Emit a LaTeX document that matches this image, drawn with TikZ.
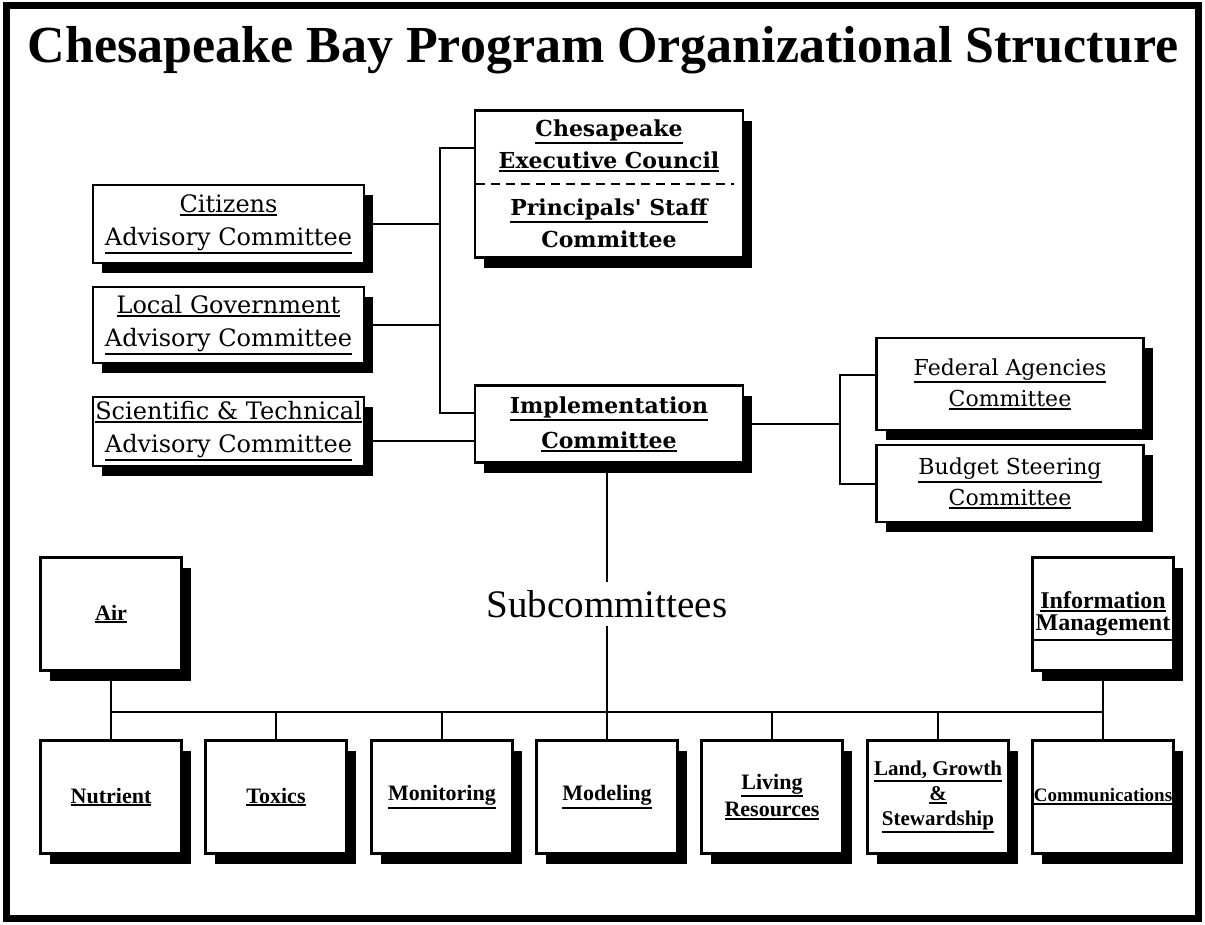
\documentclass[tikz,border=0pt]{standalone}
\usepackage{fontspec}
\setmainfont{Liberation Serif}
\newfontfamily\djv{DejaVu Serif}
\usetikzlibrary{shadows}
\newsavebox\ulbox
\newcommand\uln[1]{\sbox\ulbox{#1}\leavevmode\rlap{\usebox\ulbox}\rule[-\dimexpr\dp\ulbox+3pt\relax]{\wd\ulbox}{2pt}}

\begin{document}
\begin{tikzpicture}[x=1pt,y=-1pt,
  box/.style={draw, fill=white, line width=2.5pt, inner sep=0pt, align=center,
    drop shadow={shadow xshift=9pt, shadow yshift=-10pt, opacity=1, fill=black}},
  adv/.style={box, minimum width=271pt, font=\djv\fontsize{24}{33}\selectfont},
  council/.style={box, minimum width=268pt, font=\djv\bfseries\fontsize{22}{32}\selectfont},
  fed/.style={box, minimum width=267pt, font=\djv\fontsize{22}{31}\selectfont},
  sub/.style={box, minimum width=141pt, minimum height=113pt, font=\bfseries\fontsize{22}{27}\selectfont},
  link/.style={line width=2pt}]
  \fill[white] (0,0) rectangle (1205,924);
  \useasboundingbox (0,0) rectangle (1205,924);
  \draw[line width=7pt] (6,5) rectangle (1198,918);
  \node[font=\bfseries\fontsize{52}{60}\selectfont] (title) at (603,50) {Chesapeake Bay Program Organizational Structure};

  % advisory committees
  \node[adv, minimum height=78pt] (cac) at (228.5,224) {\uln{Citizens}\\\uln{Advisory Committee}};
  \node[adv, minimum height=76pt] (lgac) at (228.5,325) {\uln{Local Government}\\\uln{Advisory Committee}};
  \node[adv, minimum height=69pt] (stac) at (228.5,431.5) {\uln{Scientific \& Technical}\\\uln{Advisory Committee}};

  % council and implementation
  \node[council, minimum height=147pt] (cec) at (609,184) {\uln{Chesapeake}\\\uln{Executive Council}\\[15pt]\uln{Principals' Staff}\\Committee};
  \node[council, minimum height=77pt, font=\djv\bfseries\fontsize{22}{35}\selectfont] (ic) at (609,424) {\uln{Implementation}\\\uln{Committee}};
  \draw[line width=2.5pt, dash pattern=on 9pt off 6pt] ([xshift=2pt]cec.west) -- ([xshift=-10pt]cec.east);

  \node[fed, minimum height=92pt] (fac) at (1010,384) {\uln{Federal Agencies}\\\uln{Committee}};
  \node[fed, minimum height=77pt] (bsc) at (1010,483.5) {\uln{Budget Steering}\\\uln{Committee}};

  % subcommittees
  \node[font=\fontsize{39}{45}\selectfont, inner sep=8pt] (sub) at (607,604) {Subcommittees};
  \node[sub] (air) at (111,614) {\uln{Air}};
  \node[sub, font=\bfseries\fontsize{24}{22}\selectfont] (info) at (1103,614) {\uln{Information}\\Management};
  \draw[line width=2pt] ([yshift=-26pt]info.west) -- ([yshift=-26pt]info.east);
  \node[sub] (nut) at (111,797) {\uln{Nutrient}};
  \node[sub] (tox) at (276,797) {\uln{Toxics}};
  \node[sub] (mon) at (442,797) {\uln{Monitoring}};
  \node[sub] (mod) at (607,797) {\uln{Modeling}};
  \node[sub] (liv) at (772,797) {\uln{Living}\\\uln{Resources}};
  \node[sub, font=\bfseries\fontsize{21}{25}\selectfont] (land) at (938,797) {\uln{Land, Growth}\\\uln{\&}\\\uln{Stewardship}};
  \node[sub, font=\bfseries\fontsize{19}{22}\selectfont] (com) at (1103,797) {\uln{Communications}};

  % connectors
  \coordinate (lt) at (440,148);
  \coordinate (lb) at (440,413);
  \draw[link] (cec.west |- lt) -- (lt) -- (lb) -- (lb -| ic.west);
  \draw[link] (cac.east) -- (cac.east -| lt);
  \draw[link] (lgac.east) -- (lgac.east -| lt);
  \draw[link] ([yshift=-9pt]stac.east) -- ([yshift=-9pt]stac.east -| ic.west);
  \coordinate (rt) at (840,375);
  \draw[link] (ic.east) -- (ic.east -| rt);
  \draw[link] (rt -| fac.west) -- (rt) |- (bsc.west);
  \draw[link] (ic.south -| sub.north) -- (sub.north);
  \draw[link] (sub.south) -- (mod.north);
  \coordinate (busl) at (111,712);
  \coordinate (busr) at (1103,712);
  \draw[link] (busl) -- (busr);
  \draw[link] (air) -- (nut);
  \draw[link] (info) -- (com);
  \draw[link] (tox.north) -- (tox.north |- busl);
  \draw[link] (mon.north) -- (mon.north |- busl);
  \draw[link] (liv.north) -- (liv.north |- busl);
  \draw[link] (land.north) -- (land.north |- busl);
\end{tikzpicture}
\end{document}
